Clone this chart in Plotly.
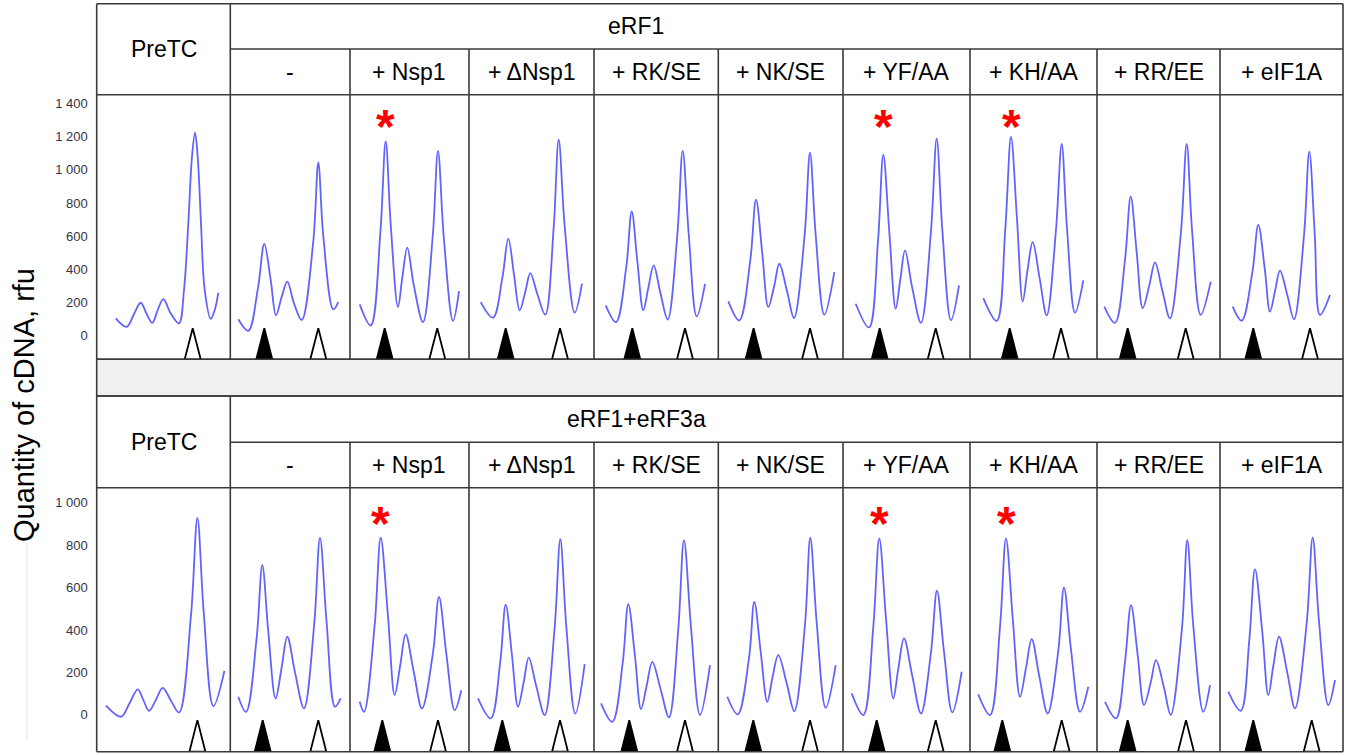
import plotly.graph_objects as go

# ---------------- data ----------------
conditions = ["PreTC", "-", "+ Nsp1", "+ ΔNsp1", "+ RK/SE", "+ NK/SE",
              "+ YF/AA", "+ KH/AA", "+ RR/EE", "+ eIF1A"]
row_labels = ["eRF1", "eRF1+eRF3a"]
starred = ["+ Nsp1", "+ YF/AA", "+ KH/AA"]

top_ticks = [0, 200, 400, 600, 800, 1000, 1200, 1400]
top_ticktext = ["0", "200", "400", "600", "800", "1 000", "1 200", "1 400"]
bot_ticks = [0, 200, 400, 600, 800, 1000]
bot_ticktext = ["0", "200", "400", "600", "800", "1 000"]

# eRF1 row: migration position (arbitrary units) and rfu
erf1_pretc_x = [19.0, 30.0, 37.3, 44.0, 50.0, 55.6, 61.0, 66.6, 74.0, 82.3, 87.3, 91.6, 95.3, 98.3, 101.0, 104.3, 108.0, 114.0, 118.0, 121.6]
erf1_pretc_y = [105, 54, 131, 199, 131, 78, 155, 221, 135, 75, 275, 677, 1079, 1224, 1079, 677, 275, 102, 155, 259]
erf1_none_x = [8.0, 18.0, 27.7, 34.0, 40.4, 45.7, 51.4, 57.0, 63.7, 71.4, 83.0, 88.0, 93.0, 103.0, 108.0]
erf1_none_y = [99, 30, 289, 553, 336, 123, 235, 326, 195, 95, 570, 1043, 600, 159, 203]
erf1_nsp1_x = [9.7, 20.7, 30.3, 35.7, 40.7, 48.0, 52.3, 57.3, 63.7, 73.0, 82.7, 88.0, 93.7, 103.0, 109.0]
erf1_nsp1_y = [189, 62, 617, 1172, 672, 173, 352, 531, 307, 82, 598, 1114, 600, 90, 269]
erf1_dnsp1_x = [11.7, 24.0, 33.3, 39.3, 45.0, 50.7, 56.3, 61.3, 68.3, 76.3, 84.7, 89.7, 95.7, 105.7, 113.0]
erf1_dnsp1_y = [203, 109, 347, 585, 369, 153, 265, 378, 252, 127, 655, 1182, 660, 139, 314]
erf1_rkse_x = [11.7, 22.0, 32.3, 37.7, 43.3, 49.3, 54.3, 59.7, 66.3, 73.7, 83.3, 88.7, 94.7, 102.7, 111.0]
erf1_rkse_y = [183, 82, 416, 750, 452, 153, 288, 424, 261, 98, 606, 1114, 615, 117, 313]
erf1_nkse_x = [10.0, 21.0, 32.0, 37.7, 44.0, 50.0, 56.0, 61.0, 68.7, 75.7, 86.3, 91.7, 97.3, 106.0, 116.0]
erf1_nkse_y = [207, 92, 456, 820, 497, 173, 303, 434, 270, 107, 605, 1104, 615, 127, 384]
erf1_yfaa_x = [12.7, 26.0, 35.0, 40.3, 46.3, 52.7, 57.3, 62.0, 69.0, 78.0, 88.0, 93.7, 99.3, 108.0, 116.0]
erf1_yfaa_y = [193, 50, 570, 1091, 627, 163, 339, 515, 296, 78, 633, 1188, 640, 93, 303]
erf1_khaa_x = [13.3, 26.7, 35.3, 41.0, 47.0, 52.7, 57.3, 62.7, 69.7, 76.7, 86.0, 91.7, 97.0, 105.0, 113.3]
erf1_khaa_y = [227, 90, 644, 1198, 703, 207, 386, 565, 344, 123, 640, 1156, 648, 139, 334]
erf1_rree_x = [7.3, 18.0, 28.0, 33.7, 39.7, 45.7, 52.3, 58.0, 65.3, 73.0, 84.0, 89.7, 95.0, 103.7, 113.7]
erf1_rree_y = [176, 78, 458, 838, 502, 166, 304, 442, 273, 105, 630, 1156, 641, 126, 326]
erf1_eif1a_x = [12.7, 21.7, 32.3, 38.3, 44.7, 50.0, 55.0, 60.0, 67.3, 74.0, 84.0, 89.3, 94.7, 100.0, 110.0]
erf1_eif1a_y = [176, 91, 380, 668, 406, 145, 268, 392, 245, 99, 605, 1110, 618, 126, 246]

# eRF1+eRF3a row
erf3_pretc_x = [9.3, 24.3, 32.7, 41.0, 46.7, 52.3, 59.0, 66.0, 74.0, 82.3, 94.3, 100.7, 107.0, 116.7, 127.7]
erf3_pretc_y = [43, -9, 53, 120, 69, 19, 69, 127, 69, 11, 470, 929, 485, 41, 207]
erf3_none_x = [8.0, 15.7, 26.3, 32.0, 38.0, 45.3, 51.3, 57.0, 64.7, 73.7, 84.0, 89.7, 96.3, 104.7, 110.3]
erf3_none_y = [85, 14, 360, 706, 391, 77, 222, 368, 200, 30, 433, 836, 437, 38, 77]
erf3_nsp1_x = [9.7, 14.0, 24.7, 30.7, 38.0, 44.7, 50.3, 55.7, 63.7, 72.0, 83.0, 89.0, 96.3, 104.7, 111.3]
erf3_nsp1_y = [61, 14, 425, 835, 464, 93, 236, 379, 204, 30, 293, 556, 289, 22, 116]
erf3_dnsp1_x = [9.0, 21.7, 31.3, 36.7, 43.0, 49.0, 54.7, 59.7, 67.3, 75.7, 85.7, 91.3, 97.3, 106.3, 115.7]
erf3_dnsp1_y = [77, -17, 252, 520, 279, 38, 154, 270, 135, -1, 414, 828, 417, 6, 239]
erf3_rkse_x = [7.0, 18.3, 28.7, 34.3, 41.0, 47.0, 52.7, 58.3, 66.7, 75.0, 84.3, 90.0, 97.0, 106.0, 116.0]
erf3_rkse_y = [54, -33, 245, 522, 275, 27, 138, 250, 119, -12, 406, 824, 412, -1, 234]
erf3_nkse_x = [9.0, 19.4, 30.7, 36.0, 42.4, 49.0, 54.0, 60.0, 68.4, 76.0, 86.7, 92.0, 98.4, 107.4, 117.4]
erf3_nkse_y = [85, 2, 267, 533, 297, 61, 171, 281, 149, 17, 426, 835, 434, 33, 234]
erf3_yfaa_x = [8.7, 20.3, 30.3, 36.3, 43.0, 50.3, 55.3, 61.0, 69.3, 78.0, 88.0, 94.0, 101.0, 109.3, 118.7]
erf3_yfaa_y = [101, -1, 415, 832, 454, 77, 218, 360, 183, 6, 296, 585, 298, 11, 203]
erf3_khaa_x = [8.3, 20.0, 30.0, 36.0, 42.7, 50.0, 56.0, 61.7, 69.3, 77.7, 88.3, 94.0, 101.0, 110.0, 118.3]
erf3_khaa_y = [96, -1, 415, 832, 458, 85, 221, 357, 181, 6, 303, 600, 307, 14, 132]
erf3_rree_x = [8.0, 19.0, 28.0, 34.0, 40.7, 47.0, 53.7, 59.0, 67.0, 73.7, 85.0, 90.3, 96.3, 106.3, 113.0]
erf3_rree_y = [61, -17, 250, 517, 282, 46, 152, 258, 128, -1, 410, 824, 419, 14, 140]
erf3_eif1a_x = [8.3, 20.7, 29.3, 35.0, 42.3, 48.3, 53.3, 59.0, 67.3, 75.0, 86.7, 92.7, 99.0, 108.3, 115.0]
erf3_eif1a_y = [109, 19, 353, 687, 390, 93, 230, 368, 199, 30, 433, 836, 441, 46, 164]

# triangle (peak marker) positions per condition
erf1_filled_tri = [None, 34.0, 34.7, 36.7, 38.3, 35.3, 36.7, 39.7, 30.7, 33.3]
erf1_open_tri = [96.0, 88.0, 87.3, 91.0, 91.0, 91.7, 92.7, 91.0, 88.7, 90.0]
erf3_filled_tri = [None, 32.4, 32.3, 33.3, 35.3, 35.0, 33.7, 32.3, 30.7, 33.3]
erf3_open_tri = [100.7, 88.0, 88.0, 91.0, 91.0, 91.7, 92.7, 91.7, 89.0, 91.7]

# ---------------- layout helpers ----------------
W, H = 1346, 755
FONT = "Arial, Liberation Sans, sans-serif"
LINE = "#3a3a3a"
def PX(x): return x / W
def PY(y): return 1 - y / H

col_edges = [96.7, 230.3, 350, 469, 594, 718.3, 843, 970, 1097, 1220, 1343]
rows = [
    dict(top=3.7, mid=49.0, plot_top=94.7, bottom=359.3, yr=[-142, 1453],
         tri_tip=45, ticks=top_ticks, ticktext=top_ticktext, star_y=1312,
         xs=[erf1_pretc_x, erf1_none_x, erf1_nsp1_x, erf1_dnsp1_x, erf1_rkse_x,
             erf1_nkse_x, erf1_yfaa_x, erf1_khaa_x, erf1_rree_x, erf1_eif1a_x],
         ys=[erf1_pretc_y, erf1_none_y, erf1_nsp1_y, erf1_dnsp1_y, erf1_rkse_y,
             erf1_nkse_y, erf1_yfaa_y, erf1_khaa_y, erf1_rree_y, erf1_eif1a_y],
         filled=erf1_filled_tri, open=erf1_open_tri, label=row_labels[0]),
    dict(top=396.0, mid=442.3, plot_top=487.7, bottom=751.7, yr=[-174, 1071],
         tri_tip=-25, ticks=bot_ticks, ticktext=bot_ticktext, star_y=942,
         xs=[erf3_pretc_x, erf3_none_x, erf3_nsp1_x, erf3_dnsp1_x, erf3_rkse_x,
             erf3_nkse_x, erf3_yfaa_x, erf3_khaa_x, erf3_rree_x, erf3_eif1a_x],
         ys=[erf3_pretc_y, erf3_none_y, erf3_nsp1_y, erf3_dnsp1_y, erf3_rkse_y,
             erf3_nkse_y, erf3_yfaa_y, erf3_khaa_y, erf3_rree_y, erf3_eif1a_y],
         filled=erf3_filled_tri, open=erf3_open_tri, label=row_labels[1]),
]

fig = go.Figure()
layout = dict(width=W, height=H, margin=dict(l=0, r=0, t=0, b=0),
              paper_bgcolor="white", plot_bgcolor="white", showlegend=False)
shapes, annotations = [], []
HALF_W = 8.0
HEAD_SIZE = 23

def text_ann(x, y, text, size, **kw):
    d = dict(x=PX(x), y=PY(y), xref="paper", yref="paper", text=text,
             showarrow=False, xanchor="center", yanchor="middle",
             font=dict(family=FONT, size=size, color="black"))
    d.update(kw)
    return d

n = 0
for r in rows:
    for c, cond in enumerate(conditions):
        n += 1
        xa = "xaxis" if n == 1 else f"xaxis{n}"
        ya = "yaxis" if n == 1 else f"yaxis{n}"
        xr = "x" if n == 1 else f"x{n}"
        yr = "y" if n == 1 else f"y{n}"
        width = col_edges[c + 1] - col_edges[c]
        layout[xa] = dict(domain=[PX(col_edges[c]), PX(col_edges[c + 1])],
                          range=[0, width], visible=False, anchor=yr, fixedrange=True)
        ydict = dict(domain=[PY(r["bottom"]), PY(r["plot_top"])], range=r["yr"],
                     anchor=xr, showgrid=False, zeroline=False, showline=False,
                     fixedrange=True, showticklabels=False)
        if c == 0:
            ydict.update(showticklabels=True, tickvals=r["ticks"], ticktext=r["ticktext"],
                         ticks="", ticklabelstandoff=8,
                         tickfont=dict(family=FONT, size=13, color="#333344"))
        layout[ya] = ydict
        # trace
        fig.add_trace(go.Scatter(x=r["xs"][c], y=r["ys"][c], mode="lines",
                                 line=dict(color="rgba(70,70,255,0.85)", width=1.8,
                                           shape="spline", smoothing=1.0),
                                 xaxis=xr, yaxis=yr, hoverinfo="skip"))
        ybase = r["yr"][0]
        for pos, fillc in ((r["filled"][c], "black"), (r["open"][c], "white")):
            if pos is None:
                continue
            fig.add_trace(go.Scatter(
                x=[pos - HALF_W, pos, pos + HALF_W, pos - HALF_W],
                y=[ybase, r["tri_tip"], ybase, ybase],
                mode="lines", fill="toself", fillcolor=fillc,
                line=dict(color="black", width=1.8), xaxis=xr, yaxis=yr,
                hoverinfo="skip"))
        if cond in starred:
            annotations.append(dict(x=r["xs"][c][r["ys"][c].index(max(r["ys"][c][:5]))],
                                    y=r["star_y"], xref=xr, yref=yr, text="<b>*</b>",
                                    showarrow=False, xanchor="center", yanchor="middle",
                                    yshift=-8,
                                    font=dict(family=FONT, size=48, color="red")))
        # sub-label
        cy = (r["mid"] + r["plot_top"]) / 2 if c > 0 else (r["top"] + r["plot_top"]) / 2
        annotations.append(text_ann((col_edges[c] + col_edges[c + 1]) / 2, cy, cond, HEAD_SIZE))
    # row header
    annotations.append(text_ann(636, (r["top"] + r["mid"]) / 2, r["label"], HEAD_SIZE))
    # frame lines
    L, R = col_edges[0], col_edges[-1]
    def hl(x0, x1, y):
        shapes.append(dict(type="line", xref="paper", yref="paper", x0=PX(x0), x1=PX(x1),
                           y0=PY(y), y1=PY(y), line=dict(color=LINE, width=1.6)))
    def vl(x, y0, y1):
        shapes.append(dict(type="line", xref="paper", yref="paper", x0=PX(x), x1=PX(x),
                           y0=PY(y0), y1=PY(y1), line=dict(color=LINE, width=1.6)))
    hl(L, R, r["top"]); hl(L, R, r["bottom"]); hl(col_edges[1], R, r["mid"])
    hl(L, R, r["plot_top"])
    vl(L, r["top"], r["bottom"]); vl(R, r["top"], r["bottom"])
    vl(col_edges[1], r["top"], r["bottom"])
    for xe in col_edges[2:-1]:
        vl(xe, r["mid"], r["bottom"])

# grey separator band
shapes.insert(0, dict(type="rect", xref="paper", yref="paper", x0=PX(96.7), x1=PX(1343),
                      y0=PY(396.0), y1=PY(359.3), fillcolor="#f0f0f0",
                      line=dict(color=LINE, width=1.6), layer="below"))
# faint guide line near the axis title
shapes.append(dict(type="line", xref="paper", yref="paper", x0=PX(27), x1=PX(27),
                   y0=PY(543), y1=PY(740), line=dict(color="#e4e4e4", width=1)))

annotations.append(text_ann(24, 405, "Quantity of cDNA, rfu", 29, textangle=-90))

layout["shapes"] = shapes
layout["annotations"] = annotations
fig.update_layout(**layout)
fig.write_html("out.html")
